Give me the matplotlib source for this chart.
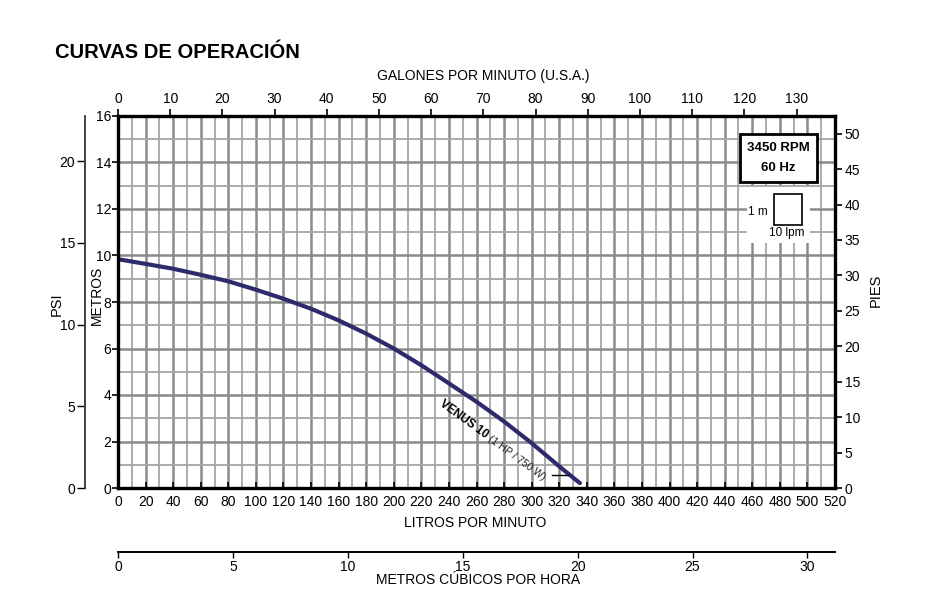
import matplotlib
matplotlib.use("Agg")
import matplotlib.pyplot as plt
from matplotlib.patches import Rectangle

plt.rcParams['font.family'] = ['Liberation Sans', 'DejaVu Sans']

# curve VENUS 10 (litros por minuto, metros)
lpm = [1, 20, 40, 60, 80, 100, 120, 140, 160, 180, 200, 220, 240, 260, 280, 300, 320, 335]
metros = [9.83, 9.64, 9.43, 9.17, 8.89, 8.53, 8.14, 7.71, 7.21, 6.64, 6.0, 5.28, 4.5, 3.71, 2.86, 1.93, 0.93, 0.21]

lpm_ticks = list(range(0, 521, 20))
gpm_ticks = list(range(0, 131, 10))
m_ticks = list(range(0, 17, 2))
ft_ticks = list(range(0, 51, 5))
psi_ticks = [0, 5, 10, 15, 20]
m3h_ticks = [0, 5, 10, 15, 20, 25, 30]

GAL = 3.78541
FT = 3.28084
PSI = 0.70307
M3H = 1000 / 60

fig = plt.figure(figsize=(9.32, 6.16), dpi=100)
ax = fig.add_axes([118/932, 128/616, 717/932, 372/616])
ax.set_xlim(0, 520)
ax.set_ylim(0, 16)

# grid
ax.set_xticks(lpm_ticks)
ax.set_xticks(range(10, 520, 20), minor=True)
ax.set_yticks(m_ticks)
ax.set_yticks(range(1, 16, 2), minor=True)
ax.grid(which='major', color='#8a8a8a', lw=1.8, zorder=0)
ax.grid(which='minor', color='#a6a6a6', lw=1.3, zorder=0)
ax.set_axisbelow(True)
for s in ax.spines.values():
    s.set_linewidth(2.4)
    s.set_zorder(5)

ax.tick_params(axis='x', which='major', direction='in', length=4, width=1.2, pad=5, labelsize=10)
ax.tick_params(axis='x', which='minor', length=0)
ax.tick_params(axis='y', which='major', direction='out', length=4, width=1.2, pad=1, labelsize=10)
ax.tick_params(axis='y', which='minor', length=0)

ax.plot(lpm, metros, color='#2d2b6b', lw=3, solid_capstyle='round', zorder=4)

# secondary scales
top = ax.secondary_xaxis('top', functions=(lambda x: x / GAL, lambda x: x * GAL))
top.set_xticks(gpm_ticks)
top.tick_params(direction='out', length=5, width=1.2, pad=2, labelsize=10)
top.spines['top'].set_visible(False)

bot = ax.secondary_xaxis(-0.172, functions=(lambda x: x / M3H, lambda x: x * M3H))
bot.set_xticks(m3h_ticks)
bot.tick_params(direction='out', length=4, width=1.0, pad=2, labelsize=10)
bot.spines['bottom'].set_linewidth(1.4)

right = ax.secondary_yaxis('right', functions=(lambda y: y * FT, lambda y: y / FT))
right.set_yticks(ft_ticks)
right.tick_params(direction='out', length=5, width=1.2, pad=2, labelsize=10)
right.spines['right'].set_visible(False)

left = ax.secondary_yaxis(-0.046, functions=(lambda y: y / PSI, lambda y: y * PSI))
left.set_yticks(psi_ticks)
left.tick_params(direction='out', length=6, width=1.0, pad=1, labelsize=10)
left.spines['left'].set_linewidth(1.3)
left.spines['left'].set_color('#333333')

# axis titles
ax.text(0.509, 1.1075, 'GALONES POR MINUTO (U.S.A.)', transform=ax.transAxes,
        ha='center', va='center', fontsize=10)
ax.text(0.498, -0.094, 'LITROS POR MINUTO', transform=ax.transAxes,
        ha='center', va='center', fontsize=10)
ax.text(0.502, -0.248, 'METROS CÚBICOS POR HORA', transform=ax.transAxes,
        ha='center', va='center', fontsize=10)
ax.text(-0.085, 0.495, 'PSI', transform=ax.transAxes, rotation=90,
        ha='center', va='center', fontsize=10.5)
ax.text(-0.0293, 0.519, 'METROS', transform=ax.transAxes, rotation=90,
        ha='center', va='center', fontsize=10)
ax.text(1.057, 0.532, 'PIES', transform=ax.transAxes, rotation=90,
        ha='center', va='center', fontsize=10.5)

fig.text(55/932, 1 - 53/616, 'CURVAS DE OPERACIÓN', weight='bold', fontsize=14.5, va='center')

# speed box
ax.add_patch(Rectangle((451, 13.16), 56, 2.07, facecolor='white', edgecolor='black', lw=2, zorder=6))
ax.text(479, 14.62, '3450 RPM', ha='center', va='center', weight='bold', fontsize=9.5, zorder=7)
ax.text(479, 13.75, '60 Hz', ha='center', va='center', weight='bold', fontsize=9.5, zorder=7)

# scale square
ax.add_patch(Rectangle((456, 10.54), 46, 2.42, facecolor='white', edgecolor='none', zorder=6))
ax.add_patch(Rectangle((476, 11.3), 20.3, 1.35, facecolor='white', edgecolor='black', lw=1.2, zorder=7))
ax.text(464, 11.86, '1 m', ha='center', va='center', fontsize=8.5, zorder=7)
ax.text(485, 10.97, '10 lpm', ha='center', va='center', fontsize=8.5, zorder=7)

# curve label
ax.text(236.5, 3.88, 'VENUS 10', rotation=-36, rotation_mode='anchor', ha='left', va='top',
        weight='bold', fontsize=8.5, zorder=7)
ax.text(271, 2.33, '(1 HP / 750 W)', rotation=-36, rotation_mode='anchor', ha='left', va='top',
        fontsize=7.5, color='#222222', zorder=7)
ax.plot([314.5, 326.5], [0.56, 0.56], color='black', lw=1, zorder=4)

fig.savefig('out.png', dpi=100, facecolor='white')
